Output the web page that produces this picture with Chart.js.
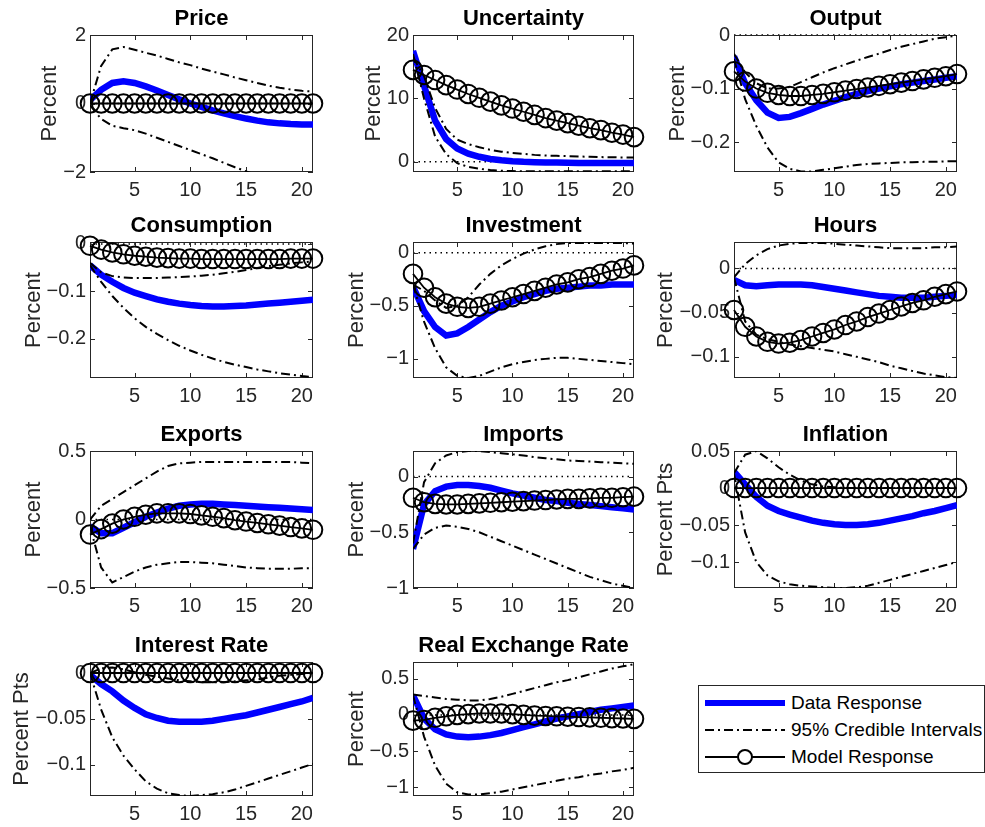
<!DOCTYPE html>
<html lang="en">
  <head>
    <meta charset="UTF-8" />
    <script src="https://cdn.jsdelivr.net/npm/chart.js@4.4.1/dist/chart.umd.min.js"></script>
    <title>Impulse responses</title>
    <style>
      body {
        margin: 0;
        padding: 0;
        background: #fff;
        width: 985px;
        height: 827px;
        position: relative;
        overflow: hidden;
        font-family: 'Liberation Sans', Arial, sans-serif;
      }
      canvas {
        position: absolute;
      }
      #legend {
        position: absolute;
        left: 698px;
        top: 685px;
        width: 287px;
        height: 88px;
        box-sizing: border-box;
        border: 1px solid #262626;
        background: #fff;
      }
      #legend .row {
        position: absolute;
        left: 6px;
        height: 26px;
        font-size: 19px;
        color: #000;
        white-space: nowrap;
      }
      #legend svg {
        position: absolute;
        left: 0;
        top: 0;
      }
      #legend span {
        position: absolute;
        left: 86px;
        top: 2px;
      }
    </style>
  </head>
  <body>
    <div id="legend">
      <div class="row" style="top: 4px">
        <svg width="80" height="26"><line x1="0" y1="13" x2="80" y2="13" stroke="#0000ff" stroke-width="6" /></svg>
        <span>Data Response</span>
      </div>
      <div class="row" style="top: 31px">
        <svg width="80" height="26"><line x1="0" y1="13" x2="80" y2="13" stroke="#000" stroke-width="2" stroke-dasharray="9 4 2 4" /></svg>
        <span>95% Credible Intervals</span>
      </div>
      <div class="row" style="top: 58px">
        <svg width="80" height="26"><line x1="0" y1="13" x2="80" y2="13" stroke="#000" stroke-width="2" /><circle cx="40" cy="13" r="7" fill="#fff" stroke="#000" stroke-width="2" /></svg>
        <span>Model Response</span>
      </div>
    </div>
    <script>
      const horizon = [1, 2, 3, 4, 5, 6, 7, 8, 9, 10, 11, 12, 13, 14, 15, 16, 17, 18, 19, 20, 21]
      const xTicks = [5, 10, 15, 20]
      const zeros = [0, 0, 0, 0, 0, 0, 0, 0, 0, 0, 0, 0, 0, 0, 0, 0, 0, 0, 0, 0, 0]

      const priceData = [0.1, 0.4, 0.6, 0.65, 0.6, 0.5, 0.38, 0.25, 0.12, 0.0, -0.1, -0.2, -0.29, -0.37, -0.44, -0.5, -0.55, -0.58, -0.6, -0.61, -0.61]
      const priceUpper = [0.0, 1.1, 1.58, 1.65, 1.57, 1.48, 1.4, 1.3, 1.2, 1.12, 1.02, 0.93, 0.85, 0.76, 0.68, 0.6, 0.52, 0.46, 0.41, 0.37, 0.35]
      const priceLower = [-0.05, -0.45, -0.65, -0.72, -0.78, -0.88, -1.0, -1.12, -1.24, -1.36, -1.48, -1.6, -1.73, -1.86, -1.98, -2.1, -2.2, -2.3, -2.4, -2.5, -2.55]
      const priceModel = zeros
      const priceTicks = [-2, 0, 2]

      const uncData = [17.5, 12.0, 6.5, 3.6, 2.1, 1.3, 0.8, 0.45, 0.25, 0.1, 0.0, -0.05, -0.1, -0.12, -0.15, -0.17, -0.18, -0.19, -0.2, -0.2, -0.2]
      const uncUpper = [16.5, 13.5, 8.5, 5.2, 3.5, 2.8, 2.3, 1.9, 1.6, 1.4, 1.25, 1.1, 1.0, 0.95, 0.9, 0.85, 0.8, 0.75, 0.72, 0.7, 0.68]
      const uncLower = [17.0, 10.0, 4.0, 1.2, -0.2, -0.8, -1.1, -1.3, -1.4, -1.45, -1.5, -1.5, -1.5, -1.5, -1.5, -1.5, -1.5, -1.5, -1.5, -1.5, -1.5]
      const uncModel = [14.5, 13.7, 12.9, 12.1, 11.4, 10.7, 10.1, 9.5, 8.9, 8.4, 7.9, 7.4, 6.9, 6.5, 6.1, 5.7, 5.3, 5.0, 4.6, 4.3, 3.9]
      const uncTicks = [0, 10, 20]

      const outData = [-0.04, -0.09, -0.122, -0.145, -0.155, -0.153, -0.146, -0.138, -0.13, -0.123, -0.116, -0.11, -0.105, -0.1, -0.096, -0.092, -0.089, -0.086, -0.083, -0.08, -0.077]
      const outUpper = [-0.035, -0.07, -0.09, -0.1, -0.1, -0.097, -0.088, -0.079, -0.07, -0.062, -0.055, -0.048, -0.041, -0.035, -0.028, -0.022, -0.017, -0.012, -0.007, -0.004, -0.001]
      const outLower = [-0.045, -0.12, -0.17, -0.21, -0.238, -0.25, -0.255, -0.255, -0.252, -0.249, -0.246, -0.243, -0.241, -0.24, -0.239, -0.238, -0.238, -0.237, -0.237, -0.236, -0.236]
      const outModel = [-0.068, -0.087, -0.1, -0.108, -0.112, -0.114, -0.114, -0.112, -0.11, -0.107, -0.104, -0.101, -0.098, -0.095, -0.092, -0.089, -0.086, -0.083, -0.08, -0.077, -0.073]
      const outTicks = [-0.2, -0.1, 0]

      const conData = [-0.045, -0.065, -0.08, -0.093, -0.103, -0.11, -0.117, -0.122, -0.126, -0.129, -0.131, -0.132, -0.132, -0.131, -0.13, -0.128, -0.126, -0.124, -0.122, -0.12, -0.118]
      const conUpper = [-0.04, -0.06, -0.068, -0.071, -0.072, -0.072, -0.072, -0.071, -0.07, -0.069, -0.067, -0.065, -0.062, -0.059, -0.055, -0.051, -0.047, -0.044, -0.041, -0.039, -0.037]
      const conLower = [-0.045, -0.08, -0.11, -0.135, -0.157, -0.175, -0.19, -0.203, -0.215, -0.225, -0.234, -0.242, -0.249, -0.255, -0.26, -0.265, -0.269, -0.273, -0.276, -0.279, -0.281]
      const conModel = [-0.004, -0.012, -0.018, -0.022, -0.025, -0.027, -0.029, -0.03, -0.031, -0.031, -0.032, -0.032, -0.032, -0.032, -0.032, -0.032, -0.032, -0.032, -0.031, -0.031, -0.031]
      const conTicks = [-0.2, -0.1, 0]

      const invData = [-0.32, -0.55, -0.7, -0.78, -0.76, -0.7, -0.63, -0.56, -0.5, -0.46, -0.42, -0.39, -0.36, -0.34, -0.33, -0.32, -0.31, -0.31, -0.3, -0.3, -0.3]
      const invUpper = [-0.3, -0.36, -0.45, -0.52, -0.5, -0.42, -0.3, -0.2, -0.12, -0.06, -0.01, 0.03, 0.06, 0.08, 0.09, 0.09, 0.09, 0.09, 0.09, 0.09, 0.085]
      const invLower = [-0.3, -0.65, -0.9, -1.08, -1.16, -1.18, -1.16, -1.12, -1.08, -1.05, -1.03, -1.01, -1.0, -0.99, -0.99, -1.0, -1.01, -1.02, -1.03, -1.04, -1.05]
      const invModel = [-0.2, -0.33, -0.42, -0.48, -0.51, -0.52, -0.51, -0.48, -0.45, -0.42, -0.39, -0.36, -0.33, -0.3, -0.28, -0.25, -0.23, -0.2, -0.17, -0.15, -0.12]
      const invTicks = [-1, -0.5, 0]

      const hrsData = [-0.013, -0.019, -0.02, -0.019, -0.018, -0.018, -0.018, -0.019, -0.021, -0.023, -0.025, -0.027, -0.029, -0.031, -0.032, -0.033, -0.033, -0.033, -0.032, -0.031, -0.03]
      const hrsUpper = [-0.01, 0.005, 0.015, 0.022, 0.026, 0.028, 0.029, 0.029, 0.029, 0.028, 0.027, 0.026, 0.025, 0.024, 0.023, 0.023, 0.023, 0.023, 0.024, 0.024, 0.025]
      const hrsLower = [-0.01, -0.06, -0.075, -0.08, -0.083, -0.086, -0.088, -0.09, -0.092, -0.094, -0.097, -0.1, -0.103, -0.106, -0.11, -0.113, -0.116, -0.119, -0.121, -0.123, -0.124]
      const hrsModel = [-0.047, -0.066, -0.077, -0.083, -0.085, -0.084, -0.081, -0.077, -0.073, -0.069, -0.064, -0.06, -0.055, -0.051, -0.047, -0.043, -0.039, -0.036, -0.032, -0.029, -0.026]
      const hrsTicks = [-0.1, -0.05, 0]

      const expData = [-0.05, -0.1, -0.1, -0.06, -0.02, 0.02, 0.05, 0.08, 0.1, 0.11, 0.115, 0.115, 0.11, 0.105, 0.1, 0.095, 0.09, 0.085, 0.08, 0.075, 0.07]
      const expUpper = [0.0, 0.1, 0.15, 0.2, 0.25, 0.3, 0.35, 0.39, 0.41, 0.415, 0.42, 0.42, 0.42, 0.42, 0.42, 0.42, 0.42, 0.42, 0.42, 0.415, 0.41]
      const expLower = [-0.05, -0.35, -0.46, -0.42, -0.38, -0.35, -0.33, -0.32, -0.31, -0.31, -0.315, -0.32, -0.33, -0.34, -0.35, -0.355, -0.36, -0.36, -0.36, -0.355, -0.355]
      const expModel = [-0.11, -0.07, -0.03, 0.0, 0.02, 0.035, 0.045, 0.045, 0.045, 0.04, 0.03, 0.02, 0.01, -0.005, -0.015, -0.025, -0.035, -0.045, -0.055, -0.065, -0.075]
      const expTicks = [-0.5, 0, 0.5]

      const impData = [-0.65, -0.25, -0.13, -0.09, -0.075, -0.075, -0.085, -0.1, -0.125, -0.15, -0.17, -0.19, -0.21, -0.22, -0.235, -0.245, -0.255, -0.265, -0.275, -0.285, -0.295]
      const impUpper = [-0.6, -0.05, 0.12, 0.19, 0.22, 0.23, 0.23, 0.22, 0.21, 0.2, 0.19, 0.175, 0.165, 0.155, 0.145, 0.14, 0.135, 0.13, 0.125, 0.12, 0.115]
      const impLower = [-0.65, -0.52, -0.46, -0.44, -0.45, -0.47, -0.5, -0.54, -0.58, -0.62, -0.66, -0.7, -0.74, -0.78, -0.82, -0.86, -0.9, -0.93, -0.96, -0.98, -1.0]
      const impModel = [-0.19, -0.23, -0.245, -0.25, -0.25, -0.245, -0.24, -0.235, -0.23, -0.225, -0.22, -0.215, -0.21, -0.205, -0.2, -0.2, -0.195, -0.19, -0.19, -0.185, -0.18]
      const impTicks = [-1, -0.5, 0]

      const infData = [0.022, 0.005, -0.012, -0.024, -0.031, -0.036, -0.04, -0.044, -0.047, -0.049, -0.05, -0.05, -0.049, -0.047, -0.044, -0.041, -0.038, -0.034, -0.031, -0.027, -0.023]
      const infUpper = [0.02, 0.045, 0.05, 0.04, 0.028, 0.018, 0.01, 0.005, 0.002, 0.001, 0, 0, 0, 0, 0, 0, 0, 0, 0, 0, 0]
      const infLower = [0.02, -0.06, -0.1, -0.118, -0.126, -0.13, -0.132, -0.133, -0.134, -0.135, -0.135, -0.134, -0.132, -0.128, -0.124, -0.12, -0.116, -0.112, -0.108, -0.104, -0.1]
      const infModel = zeros
      const infTicks = [-0.1, -0.05, 0, 0.05]

      const intData = [-0.002, -0.012, -0.02, -0.03, -0.038, -0.045, -0.049, -0.052, -0.053, -0.053, -0.053, -0.052, -0.05, -0.048, -0.046, -0.043, -0.04, -0.037, -0.034, -0.031, -0.027]
      const intUpper = [0, 0.005, 0.006, 0.004, 0.001, -0.002, -0.004, -0.006, -0.008, -0.009, -0.01, -0.01, -0.01, -0.009, -0.008, -0.007, -0.005, -0.003, -0.002, -0.001, 0]
      const intLower = [0, -0.04, -0.07, -0.09, -0.105, -0.118, -0.126, -0.131, -0.133, -0.134, -0.133, -0.132, -0.13, -0.127, -0.123, -0.119, -0.115, -0.111, -0.107, -0.103, -0.099]
      const intModel = zeros
      const intTicks = [-0.1, -0.05, 0]

      const rerData = [0.27, -0.05, -0.2, -0.27, -0.3, -0.31, -0.3, -0.28, -0.25, -0.21, -0.17, -0.13, -0.09, -0.05, -0.02, 0.01, 0.04, 0.07, 0.09, 0.11, 0.13]
      const rerUpper = [0.28, 0.26, 0.24, 0.22, 0.21, 0.2, 0.2, 0.22, 0.25, 0.29, 0.33, 0.37, 0.41, 0.45, 0.48, 0.52, 0.56, 0.6, 0.64, 0.67, 0.7]
      const rerLower = [0.27, -0.3, -0.7, -0.95, -1.07, -1.1, -1.1, -1.08, -1.06, -1.03, -1.0, -0.97, -0.94, -0.91, -0.88, -0.86, -0.83, -0.81, -0.78, -0.76, -0.73]
      const rerModel = [-0.08, -0.07, -0.04, -0.02, 0.0, 0.01, 0.02, 0.02, 0.02, 0.01, 0.0, -0.01, -0.015, -0.02, -0.025, -0.03, -0.035, -0.04, -0.045, -0.05, -0.055]
      const rerTicks = [-1, -0.5, 0, 0.5]

      const panels = [
        { title: 'Price', unit: 'Percent', data: priceData, upper: priceUpper, lower: priceLower, model: priceModel, ticks: priceTicks, min: -2, max: 2 },
        { title: 'Uncertainty', unit: 'Percent', data: uncData, upper: uncUpper, lower: uncLower, model: uncModel, ticks: uncTicks, min: -1.6, max: 20 },
        { title: 'Output', unit: 'Percent', data: outData, upper: outUpper, lower: outLower, model: outModel, ticks: outTicks, min: -0.256, max: 0 },
        { title: 'Consumption', unit: 'Percent', data: conData, upper: conUpper, lower: conLower, model: conModel, ticks: conTicks, min: -0.283, max: 0.004 },
        { title: 'Investment', unit: 'Percent', data: invData, upper: invUpper, lower: invLower, model: invModel, ticks: invTicks, min: -1.18, max: 0.1 },
        { title: 'Hours', unit: 'Percent', data: hrsData, upper: hrsUpper, lower: hrsLower, model: hrsModel, ticks: hrsTicks, min: -0.124, max: 0.03 },
        { title: 'Exports', unit: 'Percent', data: expData, upper: expUpper, lower: expLower, model: expModel, ticks: expTicks, min: -0.5, max: 0.5 },
        { title: 'Imports', unit: 'Percent', data: impData, upper: impUpper, lower: impLower, model: impModel, ticks: impTicks, min: -1, max: 0.23 },
        { title: 'Inflation', unit: 'Percent Pts', data: infData, upper: infUpper, lower: infLower, model: infModel, ticks: infTicks, min: -0.135, max: 0.05 },
        { title: 'Interest Rate', unit: 'Percent Pts', data: intData, upper: intUpper, lower: intLower, model: intModel, ticks: intTicks, min: -0.134, max: 0.012 },
        { title: 'Real Exchange Rate', unit: 'Percent', data: rerData, upper: rerUpper, lower: rerLower, model: rerModel, ticks: rerTicks, min: -1.12, max: 0.73 },
      ]

      // subplot grid (pixels of the plot boxes)
      const colLeft = [90, 413, 734]
      const colWidth = [223, 221, 223]
      const rowTop = [35, 242, 451, 662]
      const rowHeight = [137, 136, 137, 134]

      const FONT = "'Liberation Sans', Arial, sans-serif"
      const AXIS = '#262626'
      const TICK_SIZE = 20
      const LABEL_SIZE = 22
      const Y_AXIS_W = 90
      const TITLE_H = 34
      const X_AXIS_H = 30
      const RIGHT_PAD = 14

      Chart.defaults.font.family = FONT
      Chart.defaults.color = AXIS

      // matlab writes a real minus sign
      const tickText = (v) => String(v).replace('-', '\u2212')

      // MATLAB-style box, inward ticks, dotted zero line and y label
      const matlabAxes = {
        id: 'matlabAxes',
        beforeDatasetsDraw(chart, args, opts) {
          const { ctx, chartArea: a, scales } = chart
          const x = scales.x
          const y = scales.y
          ctx.save()
          if (y.min <= 0 && y.max >= 0) {
            const py = y.getPixelForValue(0)
            ctx.setLineDash([1.5, 4])
            ctx.strokeStyle = '#000'
            ctx.lineWidth = 1.5
            ctx.beginPath()
            ctx.moveTo(a.left, py)
            ctx.lineTo(a.right, py)
            ctx.stroke()
            ctx.setLineDash([])
          }
          ctx.strokeStyle = AXIS
          ctx.lineWidth = 1
          ctx.strokeRect(a.left + 0.5, a.top + 0.5, a.right - a.left - 1, a.bottom - a.top - 1)
          ctx.beginPath()
          x.ticks.forEach((t) => {
            const px = Math.round(x.getPixelForValue(t.value)) + 0.5
            ctx.moveTo(px, a.bottom)
            ctx.lineTo(px, a.bottom - 5)
            ctx.moveTo(px, a.top)
            ctx.lineTo(px, a.top + 5)
          })
          y.ticks.forEach((t) => {
            const py = Math.round(y.getPixelForValue(t.value)) + 0.5
            ctx.moveTo(a.left, py)
            ctx.lineTo(a.left + 5, py)
            ctx.moveTo(a.right, py)
            ctx.lineTo(a.right - 5, py)
          })
          ctx.stroke()
          ctx.restore()
        },
        afterDraw(chart, args, opts) {
          const { ctx, chartArea: a, scales } = chart
          const y = scales.y
          ctx.save()
          ctx.font = TICK_SIZE + 'px ' + FONT
          const w = Math.max(...y.ticks.map((t) => ctx.measureText(String(t.label)).width))
          ctx.font = LABEL_SIZE + 'px ' + FONT
          ctx.fillStyle = AXIS
          ctx.translate(a.left - 4 - w - 13, (a.top + a.bottom) / 2)
          ctx.rotate(-Math.PI / 2)
          ctx.textAlign = 'center'
          ctx.textBaseline = 'middle'
          ctx.fillText(opts.text, 0, 0)
          ctx.restore()
        },
      }

      panels.forEach((p, i) => {
        const col = i % 3
        const row = Math.floor(i / 3)
        const canvas = document.createElement('canvas')
        const w = Y_AXIS_W + colWidth[col] + RIGHT_PAD
        const h = TITLE_H + rowHeight[row] + X_AXIS_H
        canvas.width = w
        canvas.height = h
        canvas.style.left = colLeft[col] - Y_AXIS_W + 'px'
        canvas.style.top = rowTop[row] - TITLE_H + 'px'
        canvas.style.width = w + 'px'
        canvas.style.height = h + 'px'
        document.body.appendChild(canvas)

        const line = (values, extra) =>
          Object.assign(
            {
              data: values,
              pointRadius: 0,
              tension: 0,
              fill: false,
            },
            extra
          )

        new Chart(canvas.getContext('2d'), {
          type: 'line',
          data: {
            labels: horizon,
            datasets: [
              line(p.model, {
                label: 'Model Response',
                borderColor: '#000',
                borderWidth: 1.8,
                pointRadius: 9.3,
                pointStyle: 'circle',
                pointBorderColor: '#000',
                pointBorderWidth: 2,
                pointBackgroundColor: 'rgba(0,0,0,0)',
                clip: false,
                order: 0,
              }),
              line(p.upper, {
                label: '95% Credible Intervals',
                borderColor: '#000',
                borderWidth: 2,
                borderDash: [9, 4, 2, 4],
                order: 1,
              }),
              line(p.lower, {
                label: '95% Credible Intervals',
                borderColor: '#000',
                borderWidth: 2,
                borderDash: [9, 4, 2, 4],
                order: 1,
              }),
              line(p.data, {
                label: 'Data Response',
                borderColor: '#0000ff',
                borderWidth: 6.5,
                order: 2,
              }),
            ],
          },
          options: {
            responsive: false,
            animation: false,
            events: [],
            layout: { padding: { left: 0, right: RIGHT_PAD, top: 0, bottom: 0 } },
            plugins: {
              legend: { display: false },
              tooltip: { enabled: false },
              title: {
                display: true,
                text: p.title,
                fullSize: false,
                color: '#000',
                font: { size: 22, weight: 'bold' },
                padding: { top: 4.3, bottom: 3.3 },
              },
              matlabAxes: { text: p.unit },
            },
            scales: {
              x: {
                type: 'linear',
                min: 1,
                max: 21,
                grid: { display: false, drawTicks: false },
                border: { display: false },
                ticks: { font: { size: TICK_SIZE }, color: AXIS, padding: 6, maxRotation: 0 },
                afterBuildTicks: (s) => {
                  s.ticks = xTicks.map((v) => ({ value: v }))
                },
                afterFit: (s) => {
                  s.height = X_AXIS_H
                },
              },
              y: {
                min: p.min,
                max: p.max,
                grid: { display: false, drawTicks: false },
                border: { display: false },
                ticks: {
                  font: { size: TICK_SIZE },
                  color: AXIS,
                  padding: 4,
                  callback: tickText,
                },
                afterBuildTicks: (s) => {
                  s.ticks = p.ticks.map((v) => ({ value: v }))
                },
                afterFit: (s) => {
                  s.width = Y_AXIS_W
                },
              },
            },
          },
          plugins: [matlabAxes],
        })
      })
    </script>
  </body>
</html>
